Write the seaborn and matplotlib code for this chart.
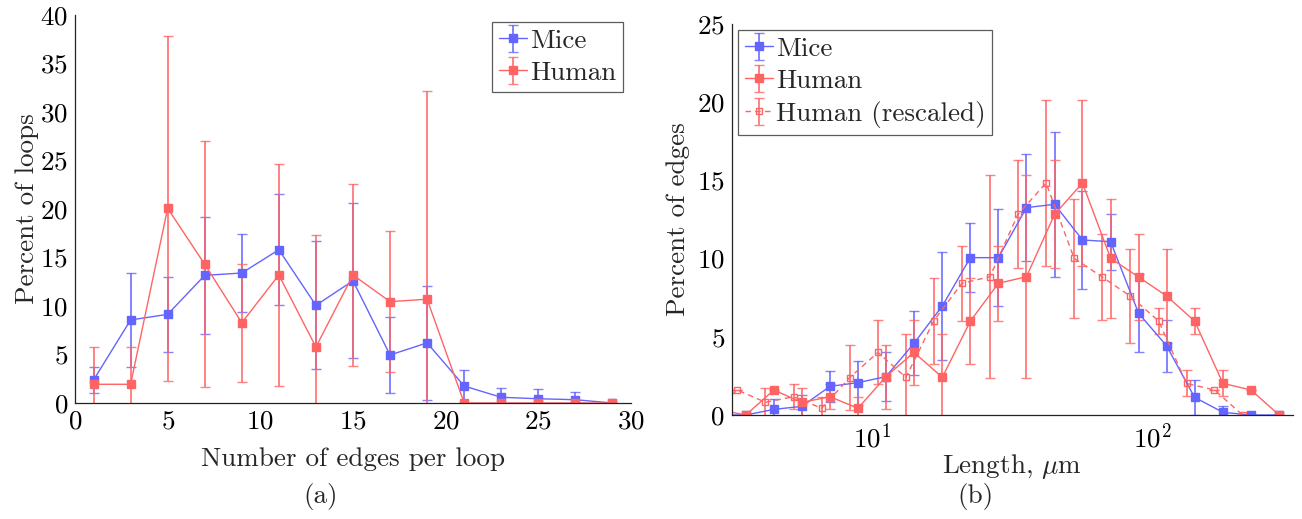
import numpy as np
import matplotlib
matplotlib.use("Agg")
import matplotlib.pyplot as plt
import seaborn as sns
from matplotlib.ticker import FixedLocator, NullFormatter, LogLocator

# ---------------- data: panel (a) ----------------
edges_per_loop = [1, 3, 5, 7, 9, 11, 13, 15, 17, 19, 21, 23, 25, 27, 29]
mice_loops = [2.37, 8.56, 9.14, 13.16, 13.4, 15.8, 10.07, 12.6, 4.95, 6.2, 1.75, 0.59, 0.44, 0.34, 0.0]
mice_loops_err = [1.3, 4.85, 3.9, 6.0, 4.0, 5.7, 6.6, 8.0, 3.9, 5.85, 1.7, 1.0, 1.05, 0.8, 0.0]
human_loops = [1.93, 1.93, 20.07, 14.3, 8.28, 13.2, 5.77, 13.2, 10.45, 10.7, 0.0, 0.0, 0.0, 0.0, 0.0]
human_loops_err = [3.8, 3.8, 17.8, 12.7, 6.1, 11.4, 11.5, 9.4, 7.3, 21.5, 0.0, 0.0, 0.0, 0.0, 0.0]

# ---------------- data: panel (b) ----------------
length_um = [2.82, 3.55, 4.47, 5.62, 7.08, 8.91, 11.2, 14.1, 17.8, 22.4, 28.2,
             35.5, 44.7, 56.2, 70.8, 89.1, 112, 141, 178, 224, 282]
mice_edges = [0.0, 0.0, 0.36, 0.55, 1.83, 2.07, 2.45, 4.58, 6.97, 10.06, 10.06,
              13.26, 13.47, 11.19, 11.08, 6.5, 4.43, 1.13, 0.17, 0.0, 0.0]
mice_edges_err = [0.0, 0.0, 0.65, 0.7, 1.0, 1.4, 1.55, 2.05, 3.47, 2.2, 3.1,
                  3.43, 4.63, 3.15, 1.8, 2.5, 1.65, 1.13, 0.4, 0.0, 0.0]
human_edges = [0.35, 0.0, 1.6, 0.8, 1.17, 0.43, 2.45, 4.0, 2.41, 6.0, 8.42,
               8.84, 12.83, 14.83, 10.02, 8.82, 7.61, 6.01, 2.02, 1.6, 0.0]
human_edges_err = [0.0, 0.0, 0.0, 0.9, 0.8, 0.75, 2.05, 2.07, 2.8, 2.75, 2.4,
                   6.5, 3.46, 5.3, 3.8, 2.77, 3.0, 0.8, 0.83, 0.0, 0.0]
length_rescaled_um = [2.09, 2.63, 3.31, 4.17, 5.25, 6.61, 8.32, 10.5, 13.2, 16.6, 20.9,
                      26.3, 33.1, 41.7, 52.5, 66.1, 83.2, 105, 132, 166, 209]
human_rescaled_edges = [0.35, 0.0, 1.6, 0.81, 1.17, 0.43, 2.39, 4.0, 2.4, 6.03, 8.42,
                        8.84, 12.83, 14.83, 10.02, 8.82, 7.6, 6.01, 2.02, 1.6, 0.0]
human_rescaled_edges_err = [0.0, 0.0, 0.0, 0.9, 0.8, 0.75, 2.1, 2.05, 2.8, 2.74, 2.4,
                            6.5, 3.46, 5.3, 3.8, 2.77, 3.0, 0.8, 0.83, 0.0, 0.0]

# ---------------- style ----------------
sns.set_theme(style="white")
plt.rcParams["font.family"] = ["serif"]
plt.rcParams["font.serif"] = ["cmr10"]
plt.rcParams["mathtext.fontset"] = "cm"
plt.rcParams["axes.formatter.use_mathtext"] = True
plt.rcParams["axes.unicode_minus"] = False

FS = 19.5
BLUE = "#6464ff"
RED = "#ff6464"

fig = plt.figure(figsize=(13.02, 5.19), dpi=100)
ax1 = fig.add_axes([0.0576, 0.2235, 0.427, 0.7476])
ax2 = fig.add_axes([0.562, 0.2004, 0.4311, 0.7534])


def eb(ax, x, y, e, color, label, ls="-", mfc=None, ms=6.0, marker="s"):
    cont = ax.errorbar(x, y, yerr=e, color=color, ls=ls, lw=1.0, marker=marker,
                       ms=ms, mfc=color if mfc is None else mfc, mec=color,
                       mew=1.0, capsize=3.5, capthick=1.2, elinewidth=1.4,
                       label=label, dashes=(4, 3) if ls == "--" else (None, None))
    for art in cont[1]:
        art.set_alpha(0.8)
    for art in cont[2]:
        art.set_alpha(0.8)
    return cont


def style_legend(leg):
    leg.get_frame().set_edgecolor("#333333")
    leg.get_frame().set_linewidth(0.9)


for ax in (ax1, ax2):
    ax.tick_params(direction="in", length=4, width=0.8, labelsize=FS, colors="#222222",
                   labelcolor="black", pad=5)
    ax.tick_params(which="minor", direction="in", length=2.5, width=0.6, colors="#222222")
    for s in ("top", "right"):
        ax.spines[s].set_visible(False)
    for s in ("left", "bottom"):
        ax.spines[s].set_color("#222222")
        ax.spines[s].set_linewidth(0.9)

leg_kw = dict(fontsize=FS, frameon=True, fancybox=False, handlelength=1.05,
              handletextpad=0.1, borderpad=0.25, labelspacing=0.3, borderaxespad=0.0)

# ---- panel (a)
eb(ax1, edges_per_loop, mice_loops, mice_loops_err, BLUE, "Mice")
eb(ax1, edges_per_loop, human_loops, human_loops_err, RED, "Human")
ax1.set_xlim(0, 30)
ax1.set_ylim(0, 40)
ax1.set_xticks([0, 5, 10, 15, 20, 25, 30])
ax1.set_yticks([0, 5, 10, 15, 20, 25, 30, 35, 40])
ax1.set_xlabel("Number of edges per loop", fontsize=FS)
ax1.set_ylabel("Percent of loops", fontsize=FS)
ax1.xaxis.set_label_coords(0.5, -0.144)
ax1.xaxis.label.set_verticalalignment("center")
ax1.yaxis.set_label_coords(-0.0863, 0.5)
ax1.yaxis.label.set_verticalalignment("center")
leg1 = ax1.legend(loc="upper right", bbox_to_anchor=(0.986, 0.982), **leg_kw)
style_legend(leg1)

# ---- panel (b)
eb(ax2, length_um, mice_edges, mice_edges_err, BLUE, "Mice")
eb(ax2, length_um, human_edges, human_edges_err, RED, "Human")
eb(ax2, length_rescaled_um, human_rescaled_edges, human_rescaled_edges_err, RED,
   "Human (rescaled)", ls="--", mfc="none", ms=4.5)
ax2.set_xscale("log")
ax2.set_xlim(10 ** 0.5, 10 ** 2.5)
ax2.set_ylim(0, 25)
ax2.set_yticks([0, 5, 10, 15, 20, 25])
ax2.xaxis.set_major_locator(FixedLocator([10, 100]))
ax2.set_xticklabels(["$10^{1}$", "$10^{2}$"])
ax2.xaxis.set_minor_locator(LogLocator(base=10, subs=np.arange(2, 10)))
ax2.xaxis.set_minor_formatter(NullFormatter())
ax2.set_xlabel("Length, $\\mu$m", fontsize=FS)
ax2.set_ylabel("Percent of edges", fontsize=FS)
ax2.xaxis.set_label_coords(0.5, -0.133)
ax2.xaxis.label.set_verticalalignment("center")
ax2.yaxis.set_label_coords(-0.0957, 0.5)
ax2.yaxis.label.set_verticalalignment("center")
leg2 = ax2.legend(loc="upper left", bbox_to_anchor=(0.011, 0.985), **leg_kw)
style_legend(leg2)

fig.text(0.246, 0.0424, "(a)", fontsize=FS, ha="center", va="center")
fig.text(0.749, 0.0424, "(b)", fontsize=FS, ha="center", va="center")

fig.savefig("out.png", dpi=100, facecolor="white")
